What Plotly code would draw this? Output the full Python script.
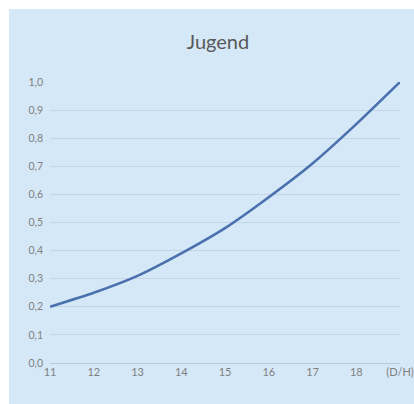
import plotly.graph_objects as go

categories = ["11", "12", "13", "14", "15", "16", "17", "18", "(D/H)"]
values = [0.20, 0.25, 0.31, 0.39, 0.48, 0.59, 0.71, 0.85, 1.00]
y_ticks = [0.0, 0.1, 0.2, 0.3, 0.4, 0.5, 0.6, 0.7, 0.8, 0.9, 1.0]
y_tick_labels = ["0,0", "0,1", "0,2", "0,3", "0,4", "0,5", "0,6", "0,7", "0,8", "0,9", "1,0"]
title = "Jugend"

x_idx = list(range(len(categories)))

fig = go.Figure()
fig.add_trace(go.Scatter(
    x=x_idx, y=values, mode="lines",
    line=dict(color="#4a70ad", width=2.6, shape="spline", smoothing=0.6),
    showlegend=False, hoverinfo="skip", cliponaxis=False))

W, H = 430, 420
L, R, T, B = 50, 30, 82, 57
pw, ph = W - L - R, H - T - B


def px_x(px):
    return (px - L) / pw


def px_y(py):
    return (H - B - py) / ph


# white strips along the top and left edges
fig.add_shape(type="rect", xref="paper", yref="paper",
              x0=px_x(-5), x1=px_x(W + 5), y0=px_y(9), y1=px_y(-5),
              fillcolor="white", line_width=0, layer="below")
fig.add_shape(type="rect", xref="paper", yref="paper",
              x0=px_x(-5), x1=px_x(9), y0=px_y(H + 5), y1=px_y(-5),
              fillcolor="white", line_width=0, layer="below")

fig.update_layout(
    width=W, height=H,
    margin=dict(l=L, r=R, t=T, b=B),
    paper_bgcolor="#d5e8f7", plot_bgcolor="rgba(0,0,0,0)",
    title=dict(text=title, x=218 / W, xanchor="center", y=1 - 42 / H, yanchor="middle",
               font=dict(family="Lato", size=20, color="#595959")),
    font=dict(family="Lato", color="#808080", size=11),
)
fig.update_xaxes(
    tickmode="array", tickvals=x_idx, ticktext=categories,
    range=[0, len(categories) - 1], showgrid=False, zeroline=False,
    showline=False, ticks="", ticklabelstandoff=1,
    tickfont=dict(size=11, color="#808080"), fixedrange=True)
fig.update_yaxes(
    tickmode="array", tickvals=y_ticks, ticktext=y_tick_labels,
    range=[0, 1.0], showgrid=True, gridcolor="#c3d6e6", gridwidth=1,
    zeroline=True, zerolinecolor="#b8cadb", zerolinewidth=1,
    showline=False, ticks="", ticklabelstandoff=6,
    tickfont=dict(size=10.5, color="#808080"), fixedrange=True)

fig.write_html(
    "out.html",
    config={"displayModeBar": False},
    post_script="document.body.style.margin='0';document.body.style.overflow='hidden';",
)
